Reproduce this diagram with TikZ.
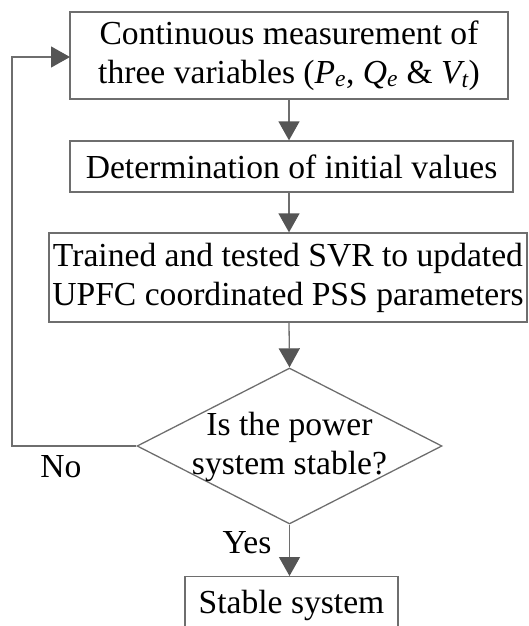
\documentclass[tikz,border=0pt]{standalone}
\usepackage{fontspec}
\setmainfont{Liberation Serif}
\usetikzlibrary{arrows.meta,shapes.geometric}
\begin{document}
\begin{tikzpicture}[x=1pt,y=-1pt,
  box/.style={draw=linegray,line width=1.3pt,rectangle,inner sep=0pt,align=center,font=\fontsize{33.6}{39}\selectfont},
  lbl/.style={inner sep=0pt,font=\fontsize{33.6}{39}\selectfont},
  conn/.style={draw=linegray,line width=1.3pt,-{Triangle[width=21pt,length=19pt,fill=arrowgray,color=arrowgray]}},
  plain/.style={draw=linegray,line width=1.3pt}]
\definecolor{linegray}{RGB}{110,110,110}
\definecolor{arrowgray}{RGB}{85,85,85}
\useasboundingbox (0,0) rectangle (528,626);
\begin{scope}
\clip (0,0) rectangle (528,626);
\node[box,minimum width=438pt,minimum height=87pt] (m) at (289,55.5)
  {Continuous measurement of\\three variables (\textit{P\textsubscript{e}}, \textit{Q\textsubscript{e}} \& \textit{V\textsubscript{t}})};
\node[box,minimum width=443pt,minimum height=51pt] (d) at (291.5,166.5) {Determination of initial values};
\node[box,minimum width=478pt,minimum height=89pt] (s) at (288,277.5)
  {Trained and tested SVR to updated\\UPFC coordinated PSS parameters};
\node[draw=linegray,line width=1.3pt,diamond,minimum width=305pt,minimum height=156pt,inner sep=0pt] (q) at (289.5,446) {};
\node[align=center,font=\fontsize{33.6}{39}\selectfont] (qt) at (289.5,447) {Is the power\\system stable?};
\node[box,minimum width=213pt,minimum height=70pt,anchor=north] (st) at (291.5,576) {\raisebox{20pt}{Stable system}};
\coordinate (c1) at (12,446);
\coordinate (c2) at (12,57);
\coordinate (c3) at (70,57);
\draw[conn] (m.south -| 289,0) -- (d.north -| 289,0);
\draw[conn] (d.south -| 289,0) -- (s.north -| 289,0);
\draw[conn] (s.south -| 289,0) -- (q.north);
\draw[conn] (q.south) -- (st.north -| q.south);
\draw[conn] (q.west) -- (c1) -- (c2) -- (c3);
\node[lbl] (no) at (61,467) {No};
\node[lbl] (yes) at (247,543) {Yes};
\end{scope}
\end{tikzpicture}
\end{document}
